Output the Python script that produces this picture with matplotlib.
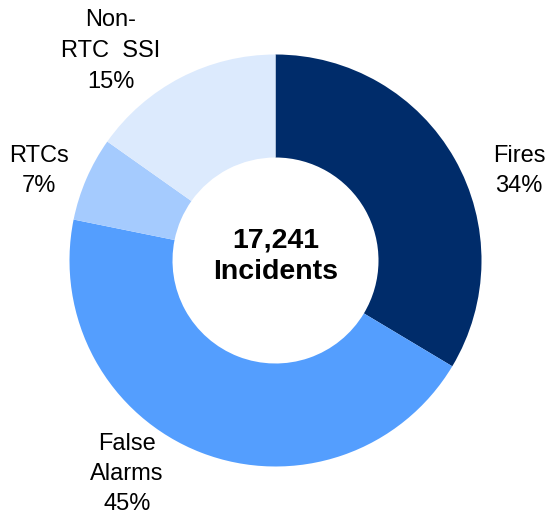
import matplotlib
matplotlib.use("Agg")
import matplotlib.pyplot as plt

categories = ["Fires", "False\nAlarms", "RTCs", "Non-\nRTC  SSI"]
values = [5790, 7690, 1140, 2621]
colors = ["#002C6A", "#549EFE", "#A5CBFE", "#DCEAFD"]
total_label = "17,241\nIncidents"

plt.rcParams['font.family'] = ['Liberation Sans', 'DejaVu Sans']

fig = plt.figure(figsize=(5.49, 5.15), dpi=100)
ax = fig.add_axes([0, 0, 1, 1])
R = 206.0
cx, cy = 275.5, 260.5
ax.pie(values, colors=colors, startangle=90, counterclock=False, radius=1,
       wedgeprops=dict(width=0.5, edgecolor='none'))
ax.set_aspect('auto')
ax.set_xlim(-cx / R, (549 - cx) / R)
ax.set_ylim(-(515 - cy) / R, cy / R)
ax.axis('off')

total = sum(values)
label_px = [(519, 171), (127, 474), (39, 171), (111, 51)]
for cat, v, (px, py) in zip(categories, values, label_px):
    pct = round(100 * v / total)
    ax.text((px - cx) / R, (cy - py) / R, f"{cat}\n{pct}%", ha='center', va='center',
            fontsize=17, linespacing=1.5, color='black')

ax.text(0, (cy - 256) / R, total_label, ha='center', va='center', fontsize=20.5,
        fontweight='bold', linespacing=1.3)

fig.savefig("out.png", dpi=100)
